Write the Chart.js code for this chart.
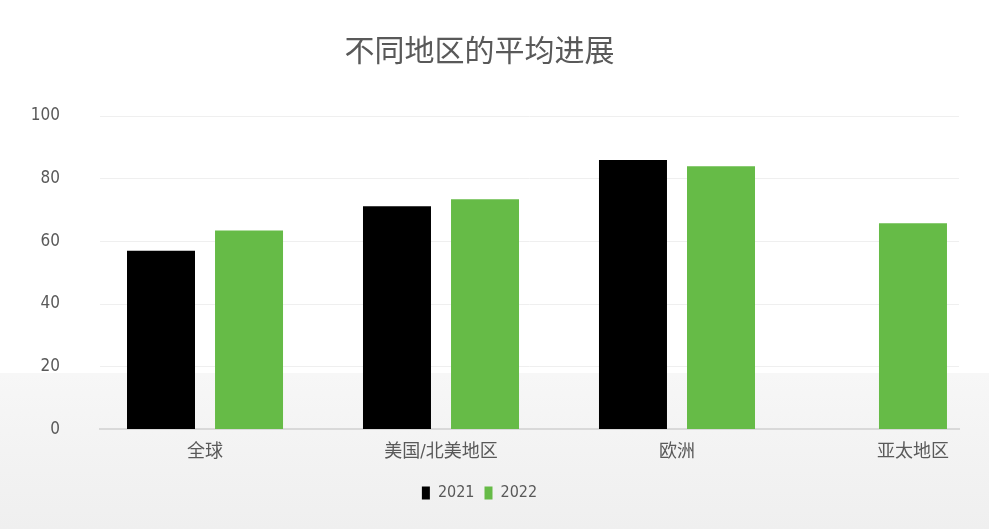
<!DOCTYPE html>
<html><head><meta charset="utf-8">
<script src="https://cdn.jsdelivr.net/npm/chart.js@4"></script>
<style>html,body{margin:0;padding:0;background:#fff}#wrap{width:989px;height:529px}</style>
</head><body><div id="wrap"><canvas id="c" width="989" height="529"></canvas></div>
<script>
const categories = ['全球', '美国/北美地区', '欧洲', '亚太地区'];
const series2021 = [57, 71.2, 86, null];
const series2022 = [63.5, 73.4, 84, 65.8];
const seriesNames = ['2021', '2022'];
const yTicks = [0, 20, 40, 60, 80, 100];

const FONT = '"DejaVu Sans Condensed", "Liberation Sans Narrow", "Noto Sans CJK SC", sans-serif';
const toPoints = arr => arr.map((v, i) => ({x: i, y: v}));

const bgPlugin = {
  id: 'bg',
  beforeDraw(chart) {
    const {ctx, width, height} = chart;
    ctx.save();
    ctx.fillStyle = '#ffffff';
    ctx.fillRect(0, 0, width, height);
    const g = ctx.createLinearGradient(0, 373, 0, height);
    g.addColorStop(0, '#f7f7f7');
    g.addColorStop(1, '#efefef');
    ctx.fillStyle = g;
    ctx.fillRect(0, 373, width, height - 373);
    ctx.restore();
  }
};

const barStyle = {categoryPercentage: 0.746, barPercentage: 0.773, maxBarThickness: 68, skipNull: true};

new Chart(document.getElementById('c'), {
  type: 'bar',
  data: {
    datasets: [
      Object.assign({label: seriesNames[0], data: toPoints(series2021), backgroundColor: '#000000'}, barStyle),
      Object.assign({label: seriesNames[1], data: toPoints(series2022), backgroundColor: '#66bb47'}, barStyle)
    ]
  },
  options: {
    responsive: false,
    animation: false,
    devicePixelRatio: 1,
    layout: {padding: {left: 0, right: 30, top: 0, bottom: 18}},
    plugins: {
      title: {display: true, text: '不同地区的平均进展', color: '#595959',
        font: {family: '"Noto Sans CJK SC", sans-serif', size: 30, weight: 'normal'},
        padding: {top: 32, bottom: 48}},
      legend: {position: 'bottom', labels: {color: '#595959', boxWidth: 8, boxHeight: 13, padding: 10,
        font: {family: FONT, size: 16}}},
      tooltip: {enabled: false}
    },
    scales: {
      x: {
        type: 'linear',
        offset: false,
        min: -0.445, max: 3.195,
        afterBuildTicks(scale) { scale.ticks = categories.map((c, i) => ({value: i})); },
        grid: {display: false, drawTicks: false},
        border: {display: true, color: '#d9d9d9', width: 2},
        ticks: {color: '#595959', padding: 12, autoSkip: false, maxRotation: 0,
          callback: v => categories[v] ?? '',
          font: {family: FONT, size: 18}}
      },
      y: {
        min: 0, max: 100,
        afterFit(scale) { scale.width = 100; },
        afterBuildTicks(scale) { scale.ticks = yTicks.map(v => ({value: v})); },
        grid: {color: '#efefef', drawTicks: false},
        border: {display: false},
        ticks: {color: '#595959', padding: 40, font: {family: FONT, size: 17}}
      }
    }
  },
  plugins: [bgPlugin]
});
</script></body></html>
